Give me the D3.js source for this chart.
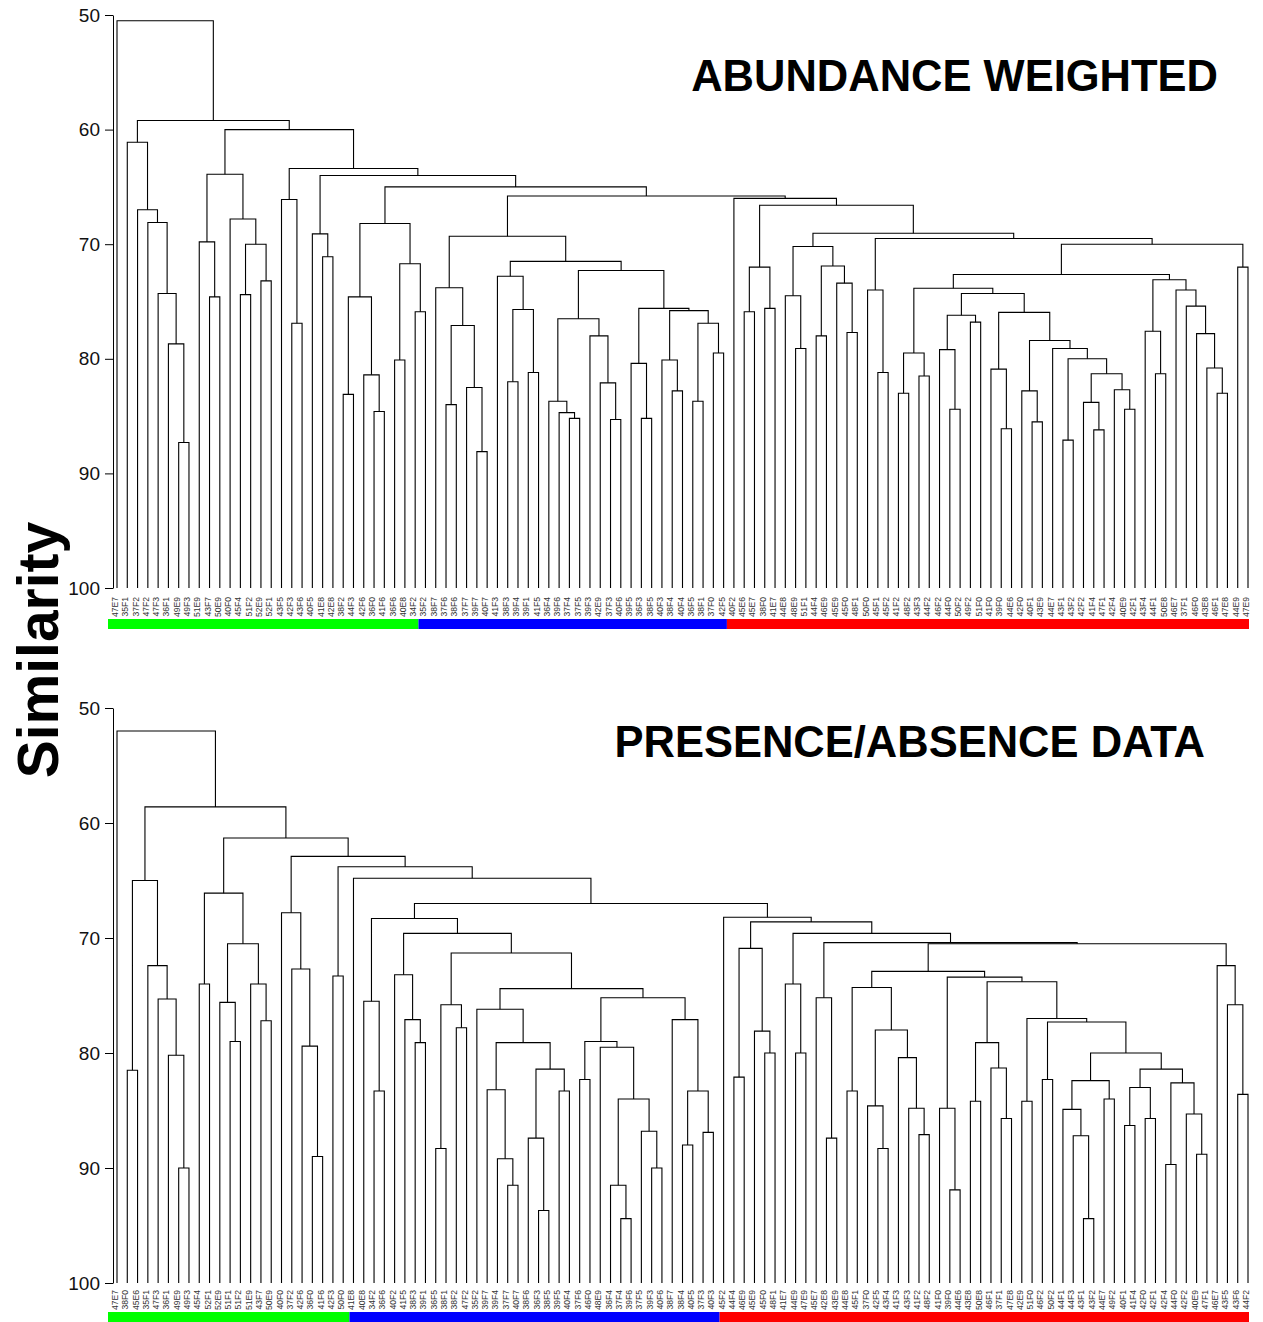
<!DOCTYPE html>
<html>
<head>
<meta charset="utf-8">
<script src="https://cdn.jsdelivr.net/npm/d3@7"></script>
<style>
  body { margin: 0; background: #fff; }
  text { font-family: Arial, "Liberation Sans", sans-serif; }
</style>
</head>
<body>
<div id="chart"></div>
<script>
// leaf labels, left to right
var topLabels = ["47E7","35F1","37F2","47F2","47F3","36F1","49E9","49F3","51E9","43F7","50E9","40F0","45F4","51F2","52E9","52F1","43F5","42F3","43F6","40F5","41E8","42E8","38F2","44F3","42F6","36F0","41F6","36F6","40E8","34F2",
  "35F2","38F7","37F6","38F6","37F7","39F7","40F7","41F3","38F3","39F4","39F1","41F5","36F4","39F6","37F4","37F5","39F3","42E9","37F3","40F6","39F5","36F3","38F5","40F3","38F4","40F4","36F5","38F1","37F0","42F5",
  "40F2","45E6","45E7","38F0","41E7","44E8","48E9","51F1","44F4","46E9","45E9","45F0","48F1","50F0","45F1","45F2","41F2","48F2","43F3","44F2","46F2","44F0","50F2","49F2","51F0","41F0","39F0","44E6","42F0","40F1","43E9","44E7","43F1","43F2","42F2","41F4","47F1","42F4","40E9","42F1","43F4","44F1","50E8","46E7","37F1","46F0","43E8","46F1","47E8","44E9","47E9"];

var bottomLabels = ["47E7","38F0","45E6","35F1","47F3","36F1","49E9","49F3","45F4","52F1","52E9","51F1","51F2","51E9","43F7","50E9","40F0","37F2","42F6","36F0","41F6","42F3","50F0",
  "41E8","40E8","34F2","36F6","40F2","41F5","38F3","39F1","36F5","38F1","38F2","47F2","35F2","39F7","39F4","37F7","40F7","38F6","36F3","38F5","39F5","40F4","37F6","46F0","48E9","36F4","37F4","39F6","37F5","39F3","40F6","38F7","38F4","40F5","37F3","40F3",
  "45F2","44F4","46E9","45E9","45F0","48F1","41E7","44E9","47E9","45E7","42E8","43E9","44E8","45F1","37F0","42F5","43F4","41F3","43F3","41F2","48F2","41F0","39F0","44E6","43E8","50E8","46F1","37F1","47E8","42E9","51F0","46F2","50F2","44F1","44F3","43F1","43F2","44E7","49F2","40F1","41F4","42F0","42F1","42F4","44F0","42F2","40E9","47F1","46E7","43F5","43F6","44F2"];

// number of leaves in each coloured group
var topGroups = [30, 30, 51];
var bottomGroups = [23, 36, 52];
var groupColors = ["#00ff00", "#0000ff", "#ff0000"];

var yTicks = [50, 60, 70, 80, 90, 100];

// merges: [similarity, left, right]; plain numbers are leaf indexes
// abundance weighted tree, built from the inside out
var topA = [61.1, 1, [67.0, 2, [68.1, 3, [74.3, 4, [78.7, 5, [87.3, 6, 7]]]]]];
var topB = [63.9, [69.8, 8, [74.6, 9, 10]], [67.8, 11, [70.0, [74.4, 12, 13], [73.2, 14, 15]]]];
var topC = [68.2, [74.6, [83.1, 22, 23], [81.4, 24, [84.6, 25, 26]]], [71.7, [80.1, 27, 28], [75.9, 29, 30]]];
var topD1 = [73.8, 31, [77.1, [84.0, 32, 33], [82.5, 34, [88.1, 35, 36]]]];
var topD2 = [72.8, 37, [75.7, [82.0, 38, 39], [81.2, 40, 41]]];
var topD3 = [76.5, [83.7, 42, [84.7, 43, [85.2, 44, 45]]], [78.0, 46, [82.1, 47, [85.3, 48, 49]]]];
var topD4 = [75.6, [80.4, 50, [85.2, 51, 52]], [75.8, [80.1, 53, [82.8, 54, 55]], [76.9, [83.7, 56, 57], [79.5, 58, 59]]]];
var topD = [69.3, topD1, [71.5, topD2, [72.3, topD3, topD4]]];
var topE = [70.2, [74.5, 65, [79.1, 66, 67]], [71.9, [78.0, 68, 69], [73.4, 70, [77.7, 71, 72]]]];
var topF = [79.5, [83.0, 76, 77], [81.5, 78, 79]];
var topG = [76.2, [79.2, 80, [84.4, 81, 82]], [76.8, 83, 84]];
var topH = [75.95, [80.9, 85, [86.1, 86, 87]], [78.4, [82.8, 88, [85.5, 89, 90]], [79.1, 91, [80.0, [87.1, 92, 93], [81.3, [83.8, 94, [86.2, 95, 96]], [82.7, 97, [84.4, 98, 99]]]]]]];
var topI = [73.1, [77.6, 100, [81.3, 101, 102]], [74.0, 103, [75.4, 104, [77.8, 105, [80.8, 106, [83.0, 107, 108]]]]]];
var topRight = [70.0, [72.65, [73.85, topF, [74.3, topG, topH]], topI], [72.0, 109, 110]];
var topRed = [66.0, 60, [66.6, [72.0, [75.9, 61, 62], [75.6, 63, 64]], [69.05, topE, [69.5, [74.0, 73, [81.2, 74, 75]], topRight]]]];
var topMid = [63.4, [66.1, 16, [76.9, 17, 18]], [64.0, [69.1, 19, [71.1, 20, 21]], [65.0, topC, [65.8, topD, topRed]]]];
var topTree = [50.5, 0, [59.2, topA, [60.0, topB, topMid]]];

// presence/absence tree
var botA = [65.0, [81.5, 1, 2], [72.4, 3, [75.3, 4, [80.2, 5, [90.0, 6, 7]]]]];
var botB = [66.1, [74.0, 8, 9], [70.5, [75.6, 10, [79.0, 11, 12]], [74.0, 13, [77.2, 14, 15]]]];
var botC = [67.8, 16, [72.7, 17, [79.4, 18, [89.0, 19, 20]]]];
var botD = [76.2, 35, [79.1, [83.2, 36, [89.2, 37, [91.5, 38, 39]]], [81.4, [87.4, 40, [93.7, 41, 42]], [83.3, 43, 44]]]];
var botE = [75.2, [79.0, [82.3, 45, 46], [79.5, 47, [84.0, [91.5, 48, [94.4, 49, 50]], [86.8, 51, [90.0, 52, 53]]]]], [77.1, 54, [83.3, [88.0, 55, 56], [86.9, 57, 58]]]];
var botF = [68.3, [75.5, 24, [83.3, 25, 26]], [69.6, [73.2, 27, [77.1, 28, [79.1, 29, 30]]], [71.3, [75.8, [88.3, 31, 32], [77.8, 33, 34]], [74.4, botD, botE]]]];
var botH = [80.0, [82.4, [84.9, 92, [87.2, 93, [94.4, 94, 95]]], [84.0, 96, 97]], [81.4, [83.0, [86.3, 98, 99], [85.7, 100, 101]], [82.6, [89.7, 102, 103], [85.3, 104, [88.8, 105, 106]]]]];
var botG = [73.4, [84.8, 80, [91.9, 81, 82]], [73.8, [79.1, [84.2, 83, 84], [81.3, 85, [85.7, 86, 87]]], [77.0, [84.2, 88, 89], [77.3, [82.3, 90, 91], botH]]]];
var botI = [74.3, [83.3, 71, 72], [78.0, [84.6, 73, [88.3, 74, 75]], [80.4, 76, [84.8, 77, [87.1, 78, 79]]]]];
var botRed = [68.2, 59, [68.6, [70.9, [82.1, 60, 61], [78.1, 62, [80.0, 63, 64]]], [69.6, [74.0, 65, [80.0, 66, 67]], [70.4, [75.2, 68, [87.4, 69, 70]], [70.5, [72.9, botI, botG], [72.4, 107, [75.8, 108, [83.6, 109, 110]]]]]]]];
var bottomTree = [52.0, 0, [58.6, botA, [61.3, botB, [62.9, botC, [63.8, [73.3, 21, 22], [64.8, 23, [67.0, botF, botRed]]]]]]];

var svg = d3.select('#chart').append('svg')
  .attr('width', 1263)
  .attr('height', 1322);

function drawPanel(tree, labels, groups, opt) {
  var x = d3.scalePoint()
    .domain(d3.range(labels.length))
    .range([117, 1248]);

  var y = d3.scaleLinear()
    .domain([50, 100])
    .range([opt.top, opt.bottom]);

  var root = d3.hierarchy(tree, function(d) {
    return Array.isArray(d) ? [d[1], d[2]] : null;
  });

  // leaves sit on the category positions, joins sit halfway between children
  root.eachAfter(function(n) {
    if (n.children) {
      n.px = (n.children[0].px + n.children[1].px) / 2;
      n.py = y(n.data[0]);
    } else {
      n.px = x(n.data);
      n.py = y(100);
    }
  });

  var g = svg.append('g');

  g.selectAll('path.link')
    .data(root.descendants().filter(function(n) { return n.children; }))
    .enter().append('path')
      .attr('class', 'link')
      .attr('fill', 'none')
      .attr('stroke', '#000')
      .attr('stroke-width', 1.1)
      .attr('d', function(n) {
        var a = n.children[0], b = n.children[1];
        return 'M' + a.px + ',' + a.py + 'V' + n.py + 'H' + b.px + 'V' + b.py;
      });

  var yAxis = d3.axisLeft(y)
    .tickValues(yTicks)
    .tickSize(8)
    .tickSizeOuter(0)
    .tickPadding(5);

  var axisG = g.append('g')
    .attr('transform', 'translate(113,0)')
    .call(yAxis);
  axisG.selectAll('text')
    .style('font-size', '19px')
    .attr('fill', '#111');
  axisG.selectAll('path, line').attr('stroke', '#000');

  // rotated leaf labels
  g.selectAll('text.leaf')
    .data(labels)
    .enter().append('text')
      .attr('class', 'leaf')
      .attr('transform', function(d, i) {
        return 'translate(' + (x(i) + 1) + ',' + opt.labelTop + ') rotate(-90)';
      })
      .attr('text-anchor', 'end')
      .style('font-size', '8.6px')
      .attr('fill', '#333')
      .text(function(d) { return d; });

  // coloured group bar under the labels
  var start = 0;
  groups.forEach(function(count, k) {
    var first = start, last = start + count - 1;
    var x0 = x(first) - (k === 0 ? 9 : opt.barGap);
    var x1 = k === groups.length - 1 ? x(last) + 1 : x(last + 1) - opt.barGap;
    g.append('rect')
      .attr('x', x0)
      .attr('y', opt.barTop)
      .attr('width', x1 - x0)
      .attr('height', 10)
      .attr('fill', groupColors[k]);
    start += count;
  });

  g.append('text')
    .attr('x', opt.titleX)
    .attr('y', opt.titleY)
    .attr('text-anchor', 'end')
    .style('font-size', '43.5px')
    .style('font-weight', 'bold')
    .text(opt.title);
}

drawPanel(topTree, topLabels, topGroups, {
  top: 15, bottom: 588, labelTop: 597, barTop: 619, barGap: 7,
  title: 'ABUNDANCE WEIGHTED', titleX: 1218, titleY: 91
});

drawPanel(bottomTree, bottomLabels, bottomGroups, {
  top: 708, bottom: 1283, labelTop: 1290, barTop: 1312, barGap: 4,
  title: 'PRESENCE/ABSENCE DATA', titleX: 1205, titleY: 757
});

svg.append('text')
  .attr('transform', 'translate(58,650) rotate(-90)')
  .attr('text-anchor', 'middle')
  .style('font-size', '57px')
  .style('font-weight', 'bold')
  .text('Similarity');
</script>
</body>
</html>
